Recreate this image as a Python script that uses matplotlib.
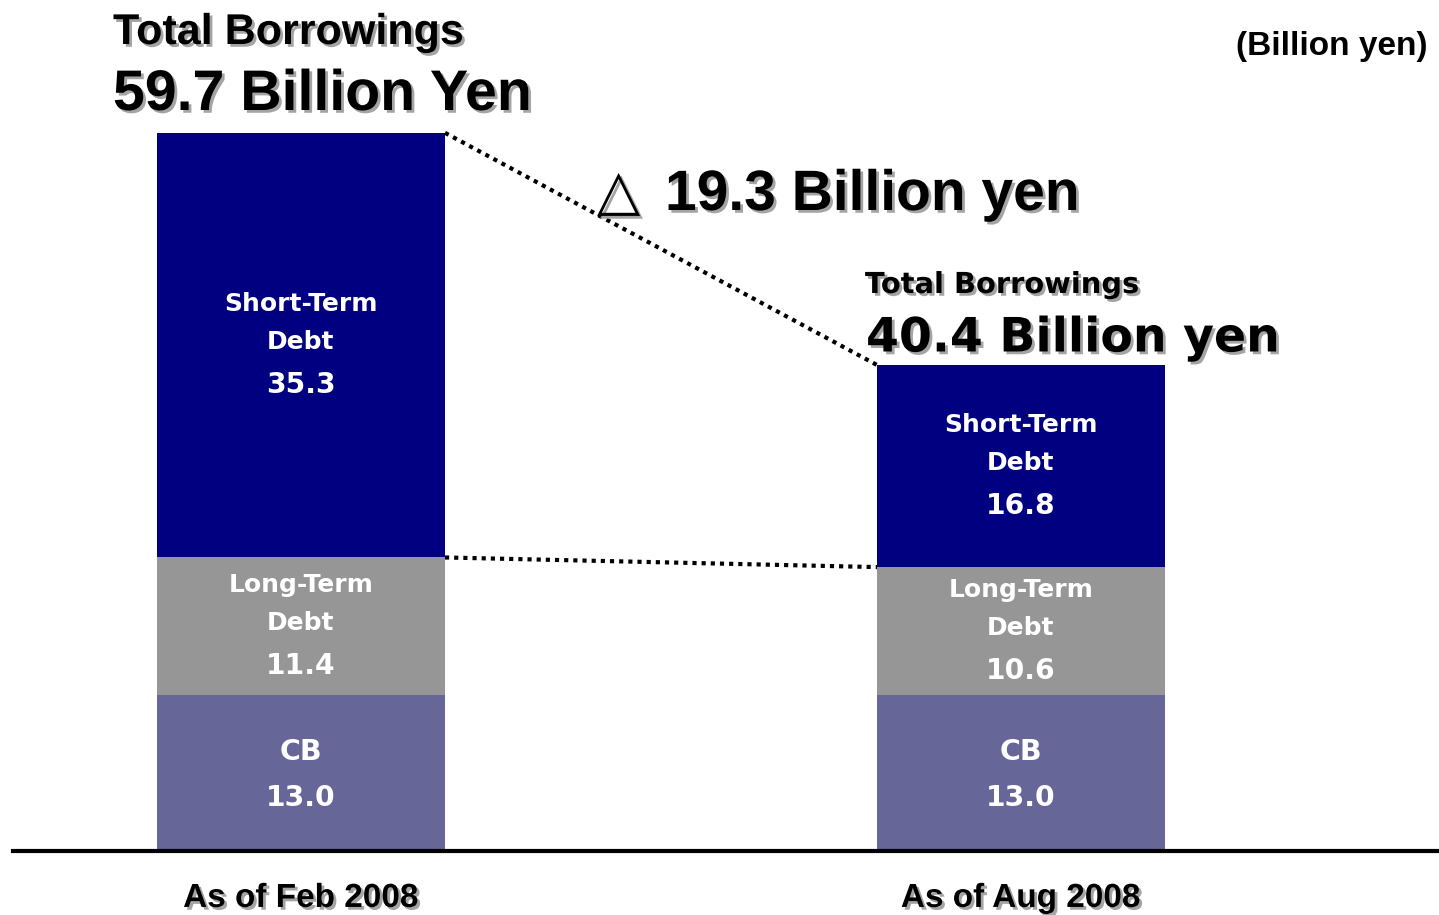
import numpy as np
import matplotlib.pyplot as plt
import matplotlib.patheffects as pe

# Borrowings breakdown (billion yen)
periods = ["As of Feb 2008", "As of Aug 2008"]
cb = [13.0, 13.0]
long_term = [11.4, 10.6]
short_term = [35.3, 16.8]
totals = [59.7, 40.4]
decrease = 19.3

c_cb = "#666699"
c_lt = "#969696"
c_st = "#000080"

shadow = [pe.withSimplePatchShadow(offset=(2, -2), shadow_rgbFace="#9a9a9a", alpha=0.9)]
arial = ["Liberation Sans", "DejaVu Sans"]
verdana = ["DejaVu Sans"]

fig = plt.figure(figsize=(14.39, 9.15), dpi=100)
ax = fig.add_axes([13 / 1439, 64 / 915, 1426 / 1439, 851 / 915])
ax.set_xlim(-0.4, 1.5806)
ax.set_ylim(0, 70.74)

x = np.arange(len(periods))
w = 0.4
ax.bar(x, cb, w, color=c_cb, linewidth=0)
ax.bar(x, long_term, w, bottom=cb, color=c_lt, linewidth=0)
lt_top = np.array(cb) + np.array(long_term)
ax.bar(x, short_term, w, bottom=lt_top, color=c_st, linewidth=0)

# segment labels
def seg_label(xc, yc, name_lines, value, name_size=18):
    n = len(name_lines)
    if n == 2:
        offs = [41, 3]
        voff = -40
    else:
        offs = [23]
        voff = -23
    for line, o in zip(name_lines, offs):
        ax.annotate(line, (xc, yc), xytext=(0, o), textcoords="offset pixels",
                    ha="center", va="center", color="white", fontsize=name_size,
                    fontweight="bold", family=verdana)
    ax.annotate(f"{value:.1f}", (xc, yc), xytext=(0, voff), textcoords="offset pixels",
                ha="center", va="center", color="white", fontsize=20.3,
                fontweight="bold", family=verdana)

for i in range(len(periods)):
    seg_label(x[i], cb[i] / 2 - 0.15, ["CB"], cb[i], name_size=20.5)
    seg_label(x[i], cb[i] + long_term[i] / 2, ["Long-Term", "Debt"], long_term[i])
    seg_label(x[i], lt_top[i] + short_term[i] / 2, ["Short-Term", "Debt"], short_term[i])

# dotted connectors between the bars
ax.plot([x[0] + w / 2, x[1] - w / 2], [totals[0], totals[1]], color="black",
        lw=3, linestyle=(0, (1, 1.2)), solid_capstyle="butt")
ax.plot([x[0] + w / 2, x[1] - w / 2], [lt_top[0], lt_top[1]], color="black",
        lw=3, linestyle=(0, (1, 1.2)), solid_capstyle="butt")

# right bar totals
ax.annotate("Total Borrowings", (x[1] - w / 2, totals[1]), xytext=(-12, 80),
            textcoords="offset pixels", ha="left", va="center", fontsize=20.8,
            fontweight="bold", family=verdana, path_effects=shadow)
ax.annotate(f"{totals[1]:.1f} Billion yen", (x[1] - w / 2, totals[1]), xytext=(-11, 26),
            textcoords="offset pixels", ha="left", va="center", fontsize=34.1,
            fontweight="bold", family=verdana, path_effects=shadow)

# left total and headline
fig.text(113 / 1439, 1 - 33 / 915, "Total Borrowings", ha="left", va="center",
         fontsize=31, fontweight="bold", family=arial, path_effects=shadow)
fig.text(113 / 1439, 1 - 95 / 915, f"{totals[0]:.1f} Billion Yen", ha="left", va="center",
         fontsize=41.2, fontweight="bold", family=arial, path_effects=shadow)
fig.text(597 / 1439, 1 - 195 / 915, "\u25b3", ha="left", va="center",
         fontsize=40.5, fontweight="bold", family=arial, path_effects=shadow)
fig.text(665 / 1439, 1 - 195 / 915, f"{decrease:.1f} Billion yen", ha="left",
         va="center", fontsize=41, fontweight="bold", family=arial, path_effects=shadow)
fig.text(1427 / 1439, 1 - 46 / 915, "(Billion yen)", ha="right", va="center",
         fontsize=24, fontweight="bold", family=arial)

# axis styling
for s in ["top", "right", "left"]:
    ax.spines[s].set_visible(False)
ax.spines["bottom"].set_linewidth(3)
ax.set_yticks([])
ax.set_xticks(x)
ax.set_xticklabels(periods, fontsize=24, fontweight="bold", family=arial)
for lbl in ax.get_xticklabels():
    lbl.set_path_effects(shadow)
ax.tick_params(axis="x", length=0, pad=23)

fig.savefig("out.png", dpi=100)
